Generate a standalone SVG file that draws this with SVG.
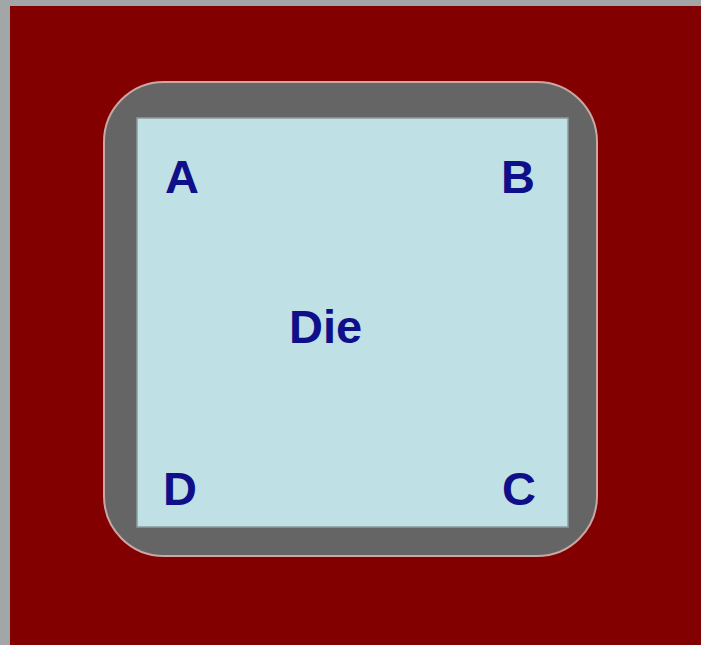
<svg xmlns="http://www.w3.org/2000/svg" width="701" height="645" viewBox="0 0 701 645">
<style>
.lbl{font-family:"Liberation Sans",Arial,sans-serif;font-weight:bold;font-size:47px;fill:#0f0f8a;}
</style>
<rect x="0" y="0" width="701" height="645" fill="#a3a6a6"/>
<rect x="10" y="6" width="691" height="639" fill="#820000"/>
<g id="package">
<rect x="104" y="82" width="493" height="474" rx="60" ry="60" fill="#656565" stroke="#c9a7a4" stroke-width="2"/>
</g>
<g id="die">
<rect x="137" y="118" width="431" height="409" fill="#bfe1e5" stroke="#8f9a9b" stroke-width="1.5"/>
<text class="lbl" x="289" y="343">Die</text>
</g>
<g id="A"><text class="lbl" x="165" y="193">A</text></g>
<g id="B"><text class="lbl" x="501" y="193">B</text></g>
<g id="D"><text class="lbl" x="163" y="505">D</text></g>
<g id="C"><text class="lbl" x="502" y="505">C</text></g>
<g id="connectors"></g>
</svg>
